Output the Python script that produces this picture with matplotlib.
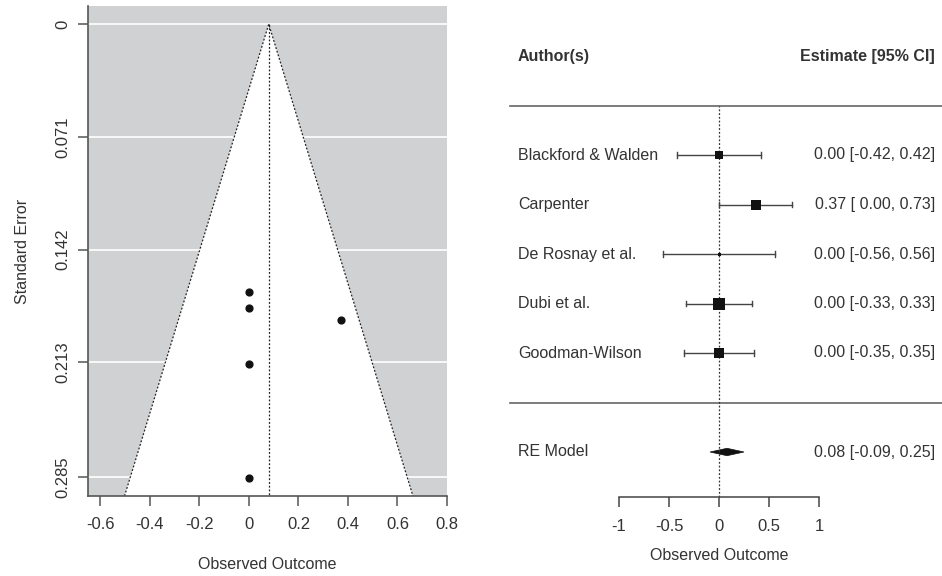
import numpy as np
import matplotlib.pyplot as plt
from matplotlib.patches import Polygon, Rectangle

plt.rcParams['font.family'] = ['Liberation Sans', 'DejaVu Sans']

authors = ['Blackford & Walden', 'Carpenter', 'De Rosnay et al.',
           'Dubi et al.', 'Goodman-Wilson']
est = np.array([0.00, 0.37, 0.00, 0.00, 0.00])
ci_lo = np.array([-0.42, 0.00, -0.56, -0.33, -0.35])
ci_hi = np.array([0.42, 0.73, 0.56, 0.33, 0.35])
weights = np.array([0.64, 0.91, 0.27, 1.00, 0.82])  # relative box sizes

re_est, re_lo, re_hi = 0.08, -0.09, 0.25

funnel_xticks = [-0.6, -0.4, -0.2, 0, 0.2, 0.4, 0.6, 0.8]
funnel_xlabels = ['-0.6', '-0.4', '-0.2', '0', '0.2', '0.4', '0.6', '0.8']
se_ticks = [0, 0.071, 0.142, 0.213, 0.285]
se_labels = ['0', '0.071', '0.142', '0.213', '0.285']
forest_ticks = [-1, -0.5, 0, 0.5, 1]
forest_labels = ['-1', '-0.5', '0', '0.5', '1']

se = (ci_hi - ci_lo) / (2 * 1.96)

txt = '#333333'
grey_back = '#d0d1d3'
fs = 11.5
fs_tick = 12

W, H = 942, 576
fig = plt.figure(figsize=(W / 100, H / 100), dpi=100)

# ---- funnel plot
ax = fig.add_axes([88 / W, 1 - 496 / H, 359 / W, 490 / H])
ymax = se.max() * 1.04
ax.set_xlim(-0.65, 0.80)
ax.set_ylim(ymax, -se.max() * 0.04)
ax.add_patch(Rectangle((-0.65, -0.02), 1.45, ymax + 0.02,
                       facecolor=grey_back, edgecolor='none', zorder=0))
for t in se_ticks:
    ax.axhline(t, color='white', lw=1.2, zorder=1)
half = 1.96 * ymax
ax.add_patch(Polygon([(re_est - half, ymax), (re_est, 0), (re_est + half, ymax)],
                     closed=False, facecolor='white', edgecolor='#222222',
                     lw=0.9, ls=(0, (1.5, 1.5)), zorder=2))
ax.plot([re_est, re_est], [0, ymax], color='#222222', lw=0.9,
        ls=(0, (1.5, 1.5)), zorder=3)
ax.scatter(est, se, s=24, color='#111111', zorder=4)

for side in ['top', 'right']:
    ax.spines[side].set_visible(False)
for side in ['left', 'bottom']:
    ax.spines[side].set_color('#555555')
    ax.spines[side].set_linewidth(1.2)
ax.set_xticks(funnel_xticks)
ax.set_xticklabels(funnel_xlabels)
ax.set_yticks(se_ticks)
ax.set_yticklabels(se_labels, rotation=90, va='center')
ax.tick_params(axis='both', length=7, width=1.1, color='#555555',
               labelcolor=txt, labelsize=fs_tick)
ax.tick_params(axis='x', pad=8)
ax.tick_params(axis='y', pad=6)
ax.set_xlabel('Observed Outcome', fontsize=fs, color=txt)
ax.set_ylabel('Standard Error', fontsize=fs, color=txt)
ax.yaxis.set_label_coords(-58 / 359, 0.5)
ax.xaxis.set_label_coords(0.5, -61 / 490)

# ---- forest plot
fx = fig.add_axes([490 / W, 0, 452 / W, 1])
px_unit = 100.0
row_px = 49.5
x0_px, y5_px = 719, 155
fx.set_xlim((490 - x0_px) / px_unit, (942 - x0_px) / px_unit)
fx.set_ylim(5 - (H - y5_px) / row_px, 5 + y5_px / row_px)
fx.patch.set_alpha(0)

k = len(authors)
rows = np.arange(k, 0, -1)
left_x = (518 - x0_px) / px_unit
right_x = (935 - x0_px) / px_unit
line_l = (510 - x0_px) / px_unit
line_r = (942 - x0_px) / px_unit

fx.plot([line_l, line_r], [k + 1, k + 1], color='#666666', lw=1.2)
fx.plot([line_l, line_r], [0, 0], color='#666666', lw=1.2)
fx.plot([0, 0], [-1.91, k + 1], color='#333333', lw=0.9, ls=(0, (1.5, 1.5)))

fx.text(left_x, k + 2, 'Author(s)', fontsize=fs, fontweight='bold',
        color=txt, ha='left', va='center')
fx.text(right_x, k + 2, 'Estimate [95% CI]', fontsize=fs, fontweight='bold',
        color=txt, ha='right', va='center')

cap = 0.06
for r, name, e, lo, hi, w in zip(rows, authors, est, ci_lo, ci_hi, weights):
    fx.plot([lo, hi], [r, r], color='#444444', lw=1.0)
    fx.plot([lo, lo], [r - cap, r + cap], color='#444444', lw=1.0)
    fx.plot([hi, hi], [r - cap, r + cap], color='#444444', lw=1.0)
    fx.plot(e, r, marker='s', ms=w * 8.0, color='#111111', mew=0)
    fx.text(left_x, r, name, fontsize=fs, color=txt, ha='left', va='center')
    fx.text(right_x, r, f'{e:.2f} [{lo:5.2f}, {hi:.2f}]',
            fontsize=fs, color=txt, ha='right', va='center')

dh = 0.075
fx.add_patch(Polygon([(re_lo, -1), (re_est, -1 + dh), (re_hi, -1), (re_est, -1 - dh)],
                     closed=True, facecolor='#111111', edgecolor='#111111', lw=0.5))
fx.text(left_x, -1, 'RE Model', fontsize=fs, color=txt, ha='left', va='center')
fx.text(right_x, -1, f'{re_est:.2f} [{re_lo:.2f}, {re_hi:.2f}]',
        fontsize=fs, color=txt, ha='right', va='center')

for side in ['top', 'right', 'left']:
    fx.spines[side].set_visible(False)
fx.spines['bottom'].set_position(('data', 5 - (497 - y5_px) / row_px))
fx.spines['bottom'].set_bounds(-1, 1)
fx.spines['bottom'].set_color('#444444')
fx.spines['bottom'].set_linewidth(1.1)
fx.set_yticks([])
fx.set_xticks(forest_ticks)
fx.set_xticklabels(forest_labels)
fx.tick_params(axis='x', length=7, width=1.1, color='#444444',
               labelcolor=txt, labelsize=fs_tick, pad=9)
fx.text(0, 5 - (556 - y5_px) / row_px, 'Observed Outcome', fontsize=fs,
        color=txt, ha='center', va='center')

fig.savefig('out.png', dpi=100, facecolor='white')
